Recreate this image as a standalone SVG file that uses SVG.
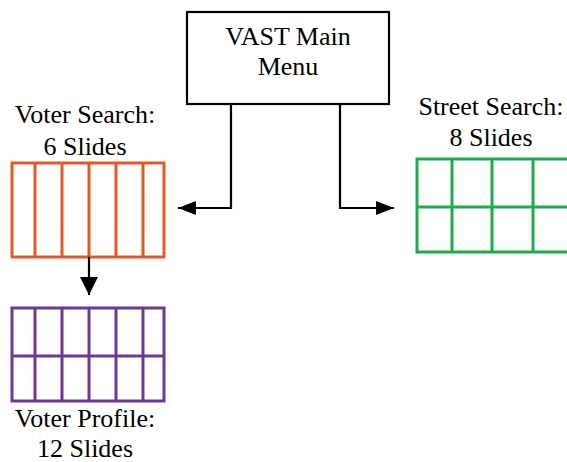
<svg xmlns="http://www.w3.org/2000/svg" width="567" height="462" viewBox="0 0 567 462">
<style>
text{font-family:"Liberation Serif","Times New Roman",serif;font-size:26px;fill:#000;text-anchor:middle}
.grid{fill:none;stroke-width:3}
.orange{stroke:#E15B28}
.green{stroke:#1FAA4B}
.purple{stroke:#6F3795}
.conn{fill:none;stroke:#000;stroke-width:2.2}
</style>
<defs>
<marker id="ah" markerUnits="userSpaceOnUse" markerWidth="18" markerHeight="14" refX="18" refY="7" orient="auto">
<path d="M0,0 L18,7 L0,14 Z" fill="#000"/>
</marker>
<marker id="ahd" markerUnits="userSpaceOnUse" markerWidth="18" markerHeight="18" refX="18" refY="9" orient="auto">
<path d="M0,0 L18,9 L0,18 Z" fill="#000"/>
</marker>
</defs>
<g id="main-menu">
<rect x="187" y="12" width="202" height="92" fill="#fff" stroke="#000" stroke-width="2.2"/>
<text x="288" y="45">VAST Main</text>
<text x="288" y="75">Menu</text>
</g>
<g id="voter-search">
<text x="85" y="123">Voter Search:</text>
<text x="85" y="155">6 Slides</text>
<g class="grid orange">
<rect x="12" y="163" width="152" height="94"/>
<path d="M35,163V257M62,163V257M89,163V257M116,163V257M143,163V257"/>
</g>
</g>
<g id="street-search">
<text x="491" y="115">Street Search:</text>
<text x="491" y="146">8 Slides</text>
<g class="grid green">
<rect x="417" y="159" width="190" height="93"/>
<path d="M417,207H607M452,159V252M492,159V252M533,159V252"/>
</g>
</g>
<g id="voter-profile">
<g class="grid purple">
<rect x="12" y="308" width="152" height="93"/>
<path d="M12,356H164M35,308V401M62,308V401M89,308V401M116,308V401M143,308V401"/>
</g>
<text x="85" y="427">Voter Profile:</text>
<text x="85" y="457">12 Slides</text>
</g>
<g id="connectors">
<path class="conn" d="M231,104V208H178" marker-end="url(#ah)"/>
<path class="conn" d="M340,104V208H394" marker-end="url(#ah)"/>
<path class="conn" d="M89,257V295" stroke-width="2.7" marker-end="url(#ahd)"/>
</g>
</svg>
